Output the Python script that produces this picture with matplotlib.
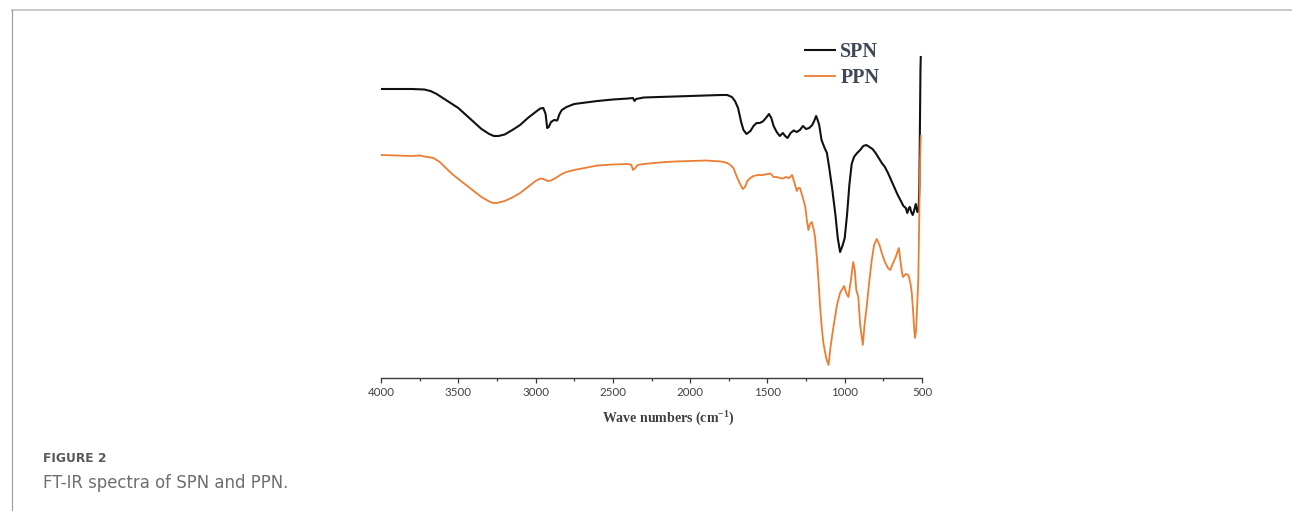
import matplotlib
matplotlib.use("Agg")
import matplotlib.pyplot as plt
from matplotlib.lines import Line2D
from matplotlib.ticker import MultipleLocator

# ---------------- data ----------------
# wavenumbers (cm-1) and relative absorption depth (a.u., larger = lower transmittance)
spn_wn = [4000, 3800, 3720, 3680, 3640, 3600, 3550, 3500, 3450, 3400, 3350, 3300,
          3270, 3240, 3200, 3150, 3100, 3050, 3000, 2970, 2950, 2935, 2925, 2915,
          2900, 2880, 2860, 2845, 2830, 2800, 2750, 2700, 2600, 2500, 2400, 2370,
          2360, 2350, 2300, 2200, 2100, 2000, 1900, 1800, 1760, 1730, 1710, 1690,
          1670, 1655, 1635, 1610, 1590, 1570, 1550, 1530, 1510, 1490, 1475, 1460,
          1440, 1420, 1400, 1385, 1370, 1350, 1330, 1310, 1290, 1270, 1250, 1230,
          1210, 1195, 1185, 1175, 1165, 1150, 1130, 1115, 1100, 1080, 1060, 1045,
          1030, 1015, 1000, 985, 970, 955, 940, 920, 900, 880, 860, 840, 820, 800,
          780, 760, 740, 720, 700, 680, 660, 640, 620, 605, 595, 585, 578, 570,
          560, 550, 540, 530, 522, 517, 513, 510, 508]
spn_val = [89, 89, 89.5, 91, 94, 98, 103, 108, 115, 122, 129, 134,
           136, 136, 134.5, 130, 125, 118, 112, 108.5, 108, 114, 128, 127,
           122, 120, 120.5, 114, 110, 107, 104, 103, 101, 99.5, 98.5, 98,
           101, 99, 97.5, 97, 96.5, 96, 95.5, 95, 95, 97, 101, 108,
           122, 130, 134, 131, 126, 123, 123, 121.5, 118, 114, 118, 126,
           132, 136, 133, 136, 138, 133, 130.5, 132, 130, 126, 129, 128,
           125, 120, 116, 120, 125, 140, 148, 153, 168, 190, 215, 238,
           252, 246, 238, 215, 185, 164, 157, 153, 150, 146, 145, 147, 149, 153,
           158, 163, 167, 173, 180, 187, 194, 200, 206, 208, 213, 208, 207, 212,
           215, 210, 204, 212, 211, 185, 120, 70, 57]

ppn_wn = [4000, 3900, 3800, 3750, 3700, 3660, 3640, 3620, 3580, 3540, 3500, 3450,
          3400, 3350, 3300, 3275, 3250, 3200, 3150, 3100, 3050, 3000, 2970, 2950,
          2920, 2900, 2870, 2830, 2800, 2750, 2700, 2650, 2600, 2500, 2400, 2380,
          2370, 2355, 2340, 2300, 2200, 2100, 2000, 1900, 1800, 1760, 1740, 1720,
          1700, 1680, 1660, 1645, 1630, 1610, 1590, 1560, 1530, 1500, 1480, 1460,
          1440, 1420, 1400, 1380, 1360, 1340, 1325, 1310, 1300, 1290, 1270, 1255,
          1245, 1235, 1225, 1213, 1200, 1192, 1180, 1170, 1160, 1150, 1138, 1120,
          1105, 1090, 1073, 1050, 1030, 1015, 1004, 990, 976, 960, 945, 935,
          925, 912, 900, 883, 870, 858, 840, 825, 810, 793, 775, 760,
          740, 720, 706, 690, 670, 650, 640, 630, 623, 605, 588, 575,
          566, 558, 550, 545, 538, 530, 524, 518, 512, 508]
ppn_val = [155, 155.5, 156, 155.5, 157, 158, 160, 162, 168, 174, 179, 185,
           191, 197, 201.5, 203, 203, 201, 197.5, 193, 187, 181, 178.5, 179,
           181, 180.5, 178, 174, 172, 170, 168.5, 167, 165.5, 164.5, 164, 165,
           170, 168, 165, 164, 162.5, 161.5, 161, 160.5, 161.5, 163, 165, 168,
           176, 183, 189, 187, 181, 178, 176, 175, 175, 174, 173.5, 177,
           177, 178, 178.5, 177, 178, 175, 183, 191, 188, 188, 198, 207,
           220, 230, 224, 222, 230, 237, 258, 280, 305, 325, 343, 358,
           365, 345, 327, 305, 293, 289, 286, 293, 297, 280, 262, 270,
           290, 297, 325, 345, 322, 307, 280, 260, 245, 239, 245, 253,
           262, 268, 270, 264, 257, 248, 260, 272, 277, 274, 275, 283,
           293, 310, 330, 338, 330, 300, 280, 220, 160, 136]

series_names = ["SPN", "PPN"]
series_colors = ["#111111", "#ED7D31"]
x_ticks = [4000, 3500, 3000, 2500, 2000, 1500, 1000, 500]

# ---------------- figure ----------------
W, H = 1292, 511
fig = plt.figure(figsize=(W / 100, H / 100), dpi=100)
fig.patch.set_facecolor("white")

# panel border (thin grey frame at top/left)
fig.add_artist(Line2D([12 / W, 1.0], [1 - 10 / H, 1 - 10 / H], transform=fig.transFigure,
                      color="#c9c9c9", lw=1.4))
fig.add_artist(Line2D([12 / W, 12 / W], [0, 1 - 10 / H], transform=fig.transFigure,
                      color="#9a9a9a", lw=0.8))

ax_left, ax_right = 381 / W, 922 / W
ax_bottom, ax_top = 1 - 378 / H, 1 - 40 / H
ax = fig.add_axes([ax_left, ax_bottom, ax_right - ax_left, ax_top - ax_bottom])

ax.plot(spn_wn, spn_val, color=series_colors[0], lw=1.5, label=series_names[0],
        solid_joinstyle="round")
ax.plot(ppn_wn, ppn_val, color=series_colors[1], lw=1.3, label=series_names[1],
        solid_joinstyle="round")

ax.set_xlim(4000, 500)
ax.set_ylim(378, 40)

for s in ["top", "right", "left"]:
    ax.spines[s].set_visible(False)
ax.spines["bottom"].set_color("#3a3a3a")
ax.spines["bottom"].set_linewidth(1.0)
ax.set_yticks([])
ax.xaxis.set_major_locator(MultipleLocator(500))
ax.xaxis.set_minor_locator(MultipleLocator(250))
ax.set_xticks(x_ticks)
ax.set_xticklabels([str(t) for t in x_ticks])
ax.tick_params(axis="x", which="major", direction="out", length=3.3, width=0.9,
               color="#3a3a3a", labelsize=8.3, labelcolor="#404040", pad=3.2)
ax.tick_params(axis="x", which="minor", direction="out", length=2.5, width=0.9,
               color="#3a3a3a")
for lab in ax.get_xticklabels():
    lab.set_fontfamily("Lato")

fig.text(668 / W, 1 - 418 / H, "Wave numbers (cm$^{\\mathregular{-1}}$)",
         ha="center", va="center", fontsize=10, fontweight="bold",
         family="Liberation Serif", color="#404040")

leg = fig.legend(loc="upper left", bbox_to_anchor=(795 / W, 1 - 32 / H),
                 frameon=False, borderpad=0, handlelength=1.5, handletextpad=0.25,
                 labelspacing=0.3, prop={"family": "Liberation Serif",
                                         "weight": "bold", "size": 14.5},
                 labelcolor="#3f4857")

# caption
fig.text(42.7 / W, 1 - 461.5 / H, "FIGURE 2", ha="left", va="baseline",
         fontsize=8.8, fontweight="bold", family="DejaVu Sans", color="#595959")
fig.text(42.7 / W, 1 - 487.5 / H, "FT-IR spectra of SPN and PPN.", ha="left",
         va="baseline", fontsize=11.9, family="DejaVu Sans", color="#6e6e6e")

fig.savefig("out.png", dpi=100, facecolor="white")
